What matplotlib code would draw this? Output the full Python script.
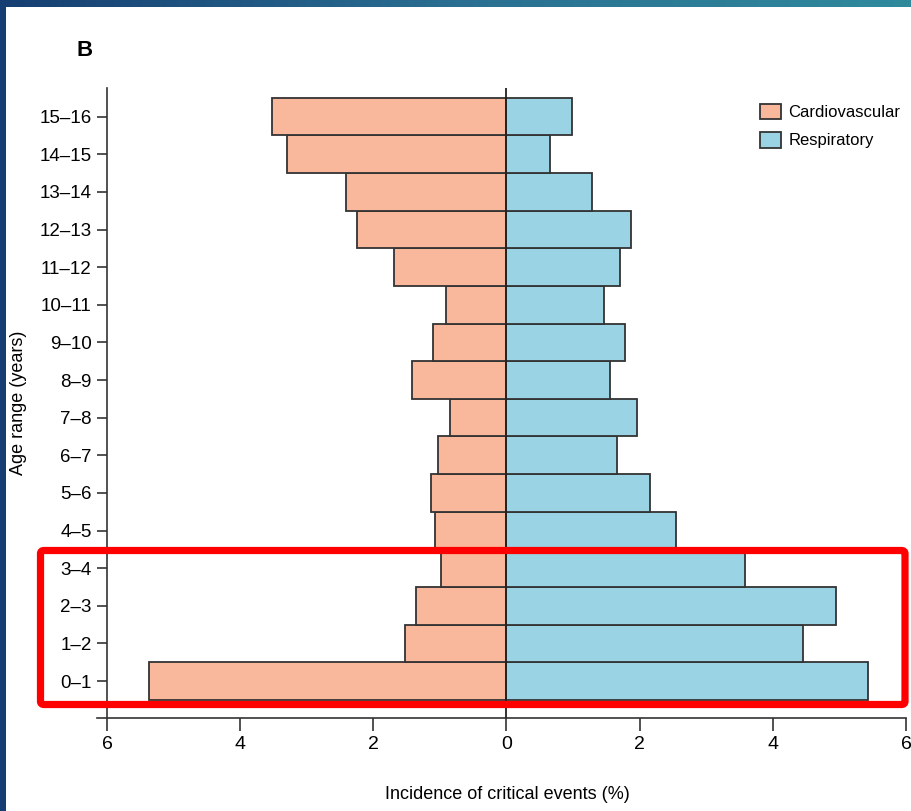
import numpy as np
import matplotlib
matplotlib.use('Agg')
import matplotlib.pyplot as plt
from matplotlib.patches import Rectangle, FancyBboxPatch, Patch
from matplotlib.colors import LinearSegmentedColormap

plt.rcParams['font.family'] = ['Liberation Sans', 'DejaVu Sans']

# Data
age_ranges = ['0\u20131', '1\u20132', '2\u20133', '3\u20134', '4\u20135', '5\u20136', '6\u20137', '7\u20138',
              '8\u20139', '9\u201310', '10\u201311', '11\u201312', '12\u201313', '13\u201314', '14\u201315', '15\u201316']
cardiovascular = [5.37, 1.53, 1.36, 0.99, 1.08, 1.14, 1.03, 0.85,
                  1.42, 1.11, 0.91, 1.69, 2.25, 2.41, 3.30, 3.52]
respiratory = [5.43, 4.45, 4.95, 3.58, 2.55, 2.16, 1.66, 1.96,
               1.56, 1.78, 1.47, 1.71, 1.87, 1.29, 0.66, 0.99]
x_ticks = [-6, -4, -2, 0, 2, 4, 6]
x_tick_labels = ['6', '4', '2', '0', '2', '4', '6']

W, H = 911, 811
fig = plt.figure(figsize=(W / 100, H / 100), dpi=100)
fig.patch.set_facecolor('white')

# dark frame: left strip and gradient top strip
fig.patches.append(Rectangle((0, 0), 6 / W, 1, transform=fig.transFigure,
                             facecolor='#163e72', edgecolor='none', zorder=0))
band = fig.add_axes([0, 1 - 7 / H, 1, 7 / H])
cmap = LinearSegmentedColormap.from_list('band', ['#163e72', '#2a6f92', '#2f8a9c'])
band.imshow(np.linspace(0, 1, 256)[None, :], aspect='auto', cmap=cmap)
band.axis('off')

ax = fig.add_axes([97 / W, (H - 718) / H, (906 - 97) / W, (718 - 88) / H])
y = np.arange(len(age_ranges))
ax.barh(y, [-v for v in cardiovascular], height=1.0, color='#f9b89b',
        edgecolor='#333333', linewidth=1.3, label='Cardiovascular', zorder=2)
ax.barh(y, respiratory, height=1.0, color='#9ad3e3',
        edgecolor='#333333', linewidth=1.3, label='Respiratory', zorder=2)
ax.axvline(0, color='#222222', linewidth=1.3, zorder=3)

ax.set_xlim(-6.15, 6.0)
ax.set_ylim(-0.98, 15.76)
ax.spines['top'].set_visible(False)
ax.spines['right'].set_visible(False)
ax.spines['left'].set_position(('data', -6))
for s in ['left', 'bottom']:
    ax.spines[s].set_color('#333333')
    ax.spines[s].set_linewidth(1.2)

ax.set_xticks(x_ticks)
ax.set_xticklabels(x_tick_labels)
ax.set_yticks(y)
ax.set_yticklabels(age_ranges)
ax.tick_params(axis='x', length=9, width=1.2, color='#333333', labelsize=14, pad=4)
ax.tick_params(axis='y', length=7, width=1.2, color='#333333', labelsize=13.5, pad=4)

ax.set_xlabel('Incidence of critical events (%)', fontsize=13)
ax.xaxis.set_label_coords(0.507, -0.108)
ax.set_ylabel('Age range (years)', fontsize=13)
ax.yaxis.set_label_coords((27 - 97) / (906 - 97), 0.5)

fig.text(85 / W, 1 - 50 / H, 'B', fontsize=16, fontweight='bold', ha='center', va='center')

handles = [Patch(facecolor='#f9b89b', edgecolor='#333333', linewidth=1.3, label='Cardiovascular'),
           Patch(facecolor='#9ad3e3', edgecolor='#333333', linewidth=1.3, label='Respiratory')]
fig.legend(handles=handles, loc='upper left', bbox_to_anchor=(760 / W, 1 - 104 / H),
           frameon=False, fontsize=12, handlelength=1.25, handleheight=1.05,
           handletextpad=0.45, labelspacing=0.7, borderaxespad=0, borderpad=0)

# red highlight around the youngest age groups
fig.patches.append(FancyBboxPatch((40.5 / W, (H - 704.5) / H), (905 - 40.5) / W, (704.5 - 550.5) / H,
                                  boxstyle='round,pad=0,rounding_size=0.004', transform=fig.transFigure,
                                  facecolor='none', edgecolor='#ff0000', linewidth=5.2, zorder=10))

fig.savefig('out.png', dpi=100)
